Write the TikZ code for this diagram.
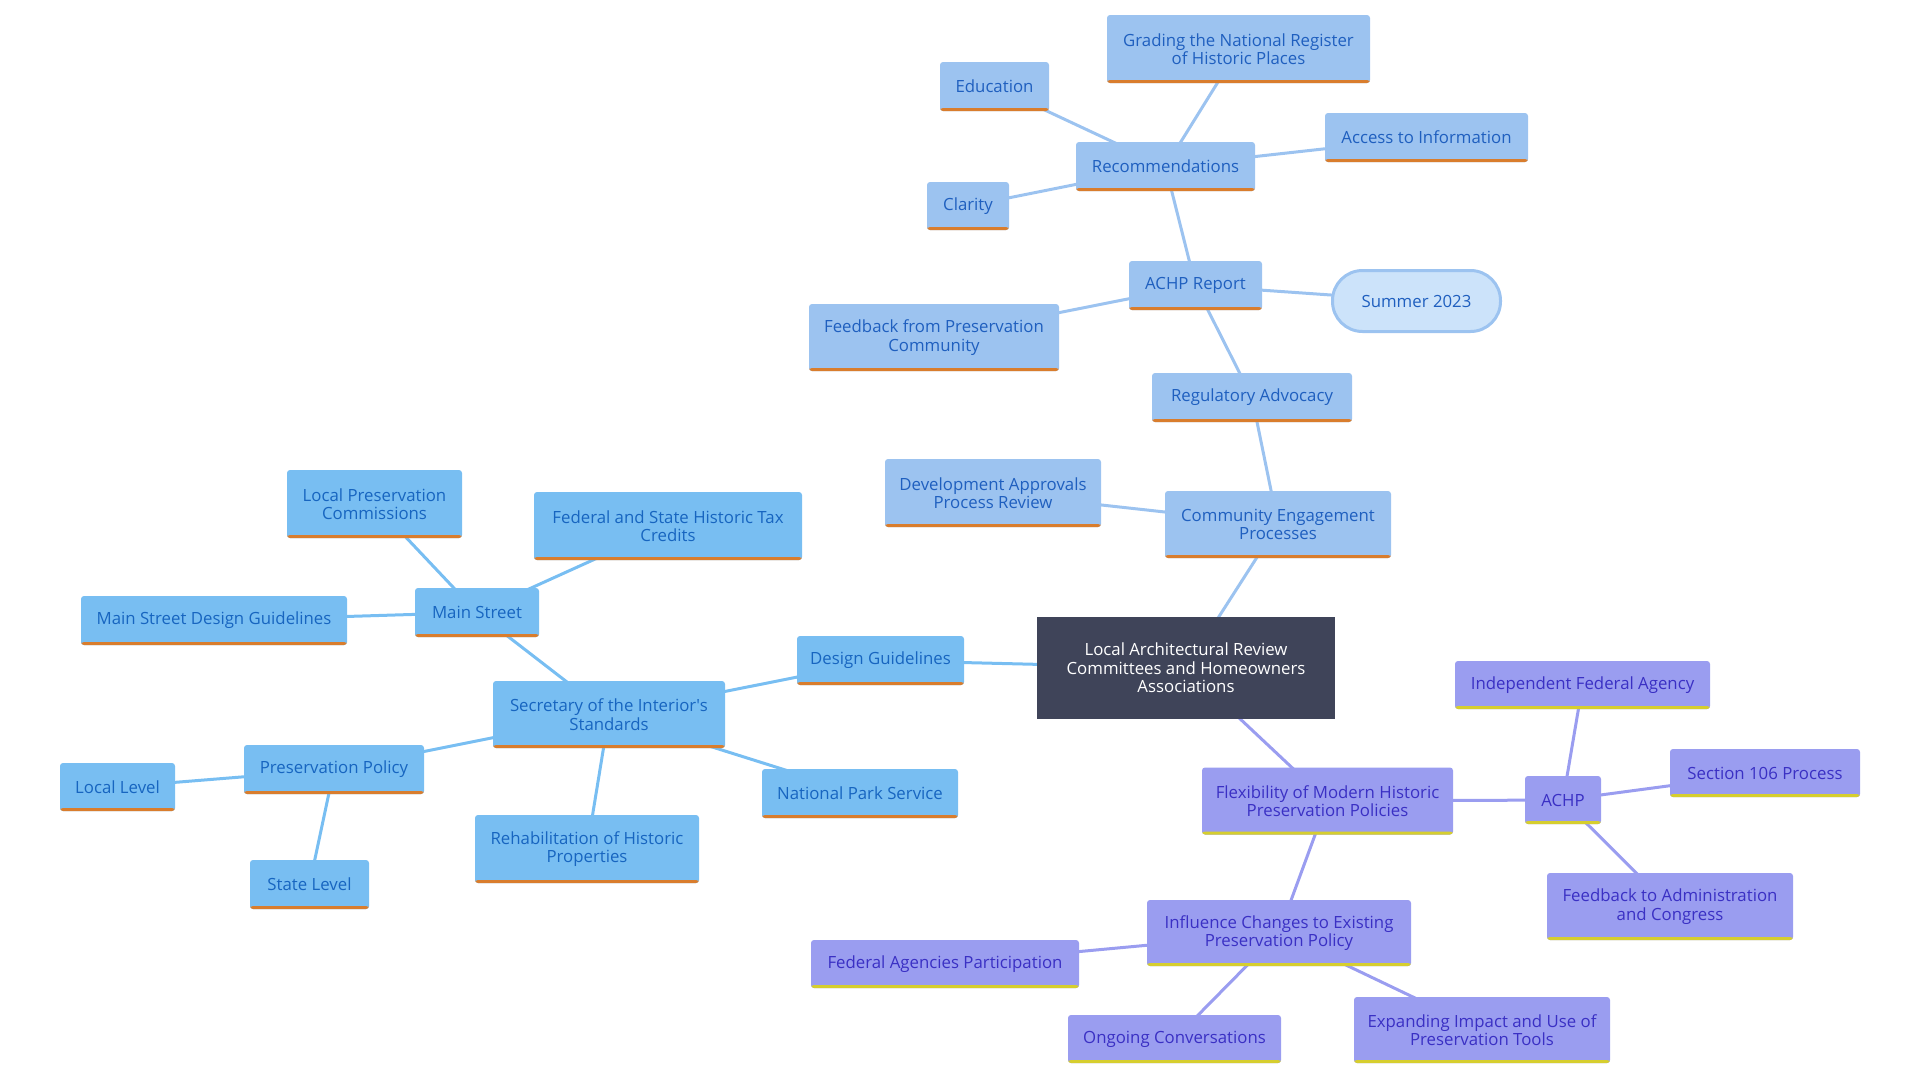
\documentclass[tikz,border=0pt]{standalone}
\usepackage{fontspec}
\setmainfont{Open Sans}
\usetikzlibrary{backgrounds}
\definecolor{topfill}{HTML}{9CC3F0}
\definecolor{toptext}{HTML}{1F5FBF}
\definecolor{leftfill}{HTML}{78BEF2}
\definecolor{lefttext}{HTML}{1765C0}
\definecolor{purpfill}{HTML}{9A9DF0}
\definecolor{purptext}{HTML}{3A30C4}
\definecolor{rootfill}{HTML}{3F4459}
\definecolor{summerfill}{HTML}{CCE3FA}
\definecolor{barorange}{HTML}{D97D2D}
\definecolor{baryellow}{HTML}{D6CE2E}
\tikzset{
  box/.style n args={3}{rectangle, rounded corners=3pt, inner sep=0pt, align=center,
    font=\fontsize{16.8}{18.5}\selectfont, fill=#1, text=#2,
    path picture={\fill[#3] ([yshift=3pt]path picture bounding box.south west) rectangle (path picture bounding box.south east);}},
  topbox/.style={box={topfill}{toptext}{barorange}},
  leftbox/.style={box={leftfill}{lefttext}{barorange}},
  purpbox/.style={box={purpfill}{purptext}{baryellow}},
  rootbox/.style={rectangle, inner sep=0pt, align=center, fill=rootfill, text=white,
    font=\fontsize{16.8}{18.5}\selectfont},
  pillbox/.style={rectangle, rounded corners=30pt, inner sep=0pt, align=center, fill=summerfill,
    draw=topfill, line width=3pt, text=toptext, font=\fontsize{16.8}{18.5}\selectfont},
  topedge/.style={draw=topfill, line width=3pt},
  leftedge/.style={draw=leftfill, line width=3pt},
  purpedge/.style={draw=purpfill, line width=3pt},
  sz/.style n args={2}{minimum width=#1pt, minimum height=#2pt}
}
\begin{document}
\begin{tikzpicture}[x=1pt,y=-1pt]
\useasboundingbox (0,0) rectangle (1920,1080);

% root
\node[rootbox, sz={298}{102}] (root) at (1186,668) {Local Architectural Review\\Committees and Homeowners\\Associations};

% top branch
\node[topbox, sz={226}{67}] (community) at (1278,524.5) {Community Engagement\\Processes};
\node[topbox, sz={216}{68}] (devapp) at (993,493) {Development Approvals\\Process Review};
\node[topbox, sz={200}{49}] (regul) at (1252,397.5) {Regulatory Advocacy};
\node[topbox, sz={133}{49}] (achpreport) at (1195.5,285.5) {ACHP Report};
\node[pillbox, sz={168}{61}] (summer) at (1416.5,301) {Summer 2023};
\node[topbox, sz={250}{67}] (feedbackpc) at (934,337.5) {Feedback from Preservation\\Community};
\node[topbox, sz={179}{49}] (recs) at (1165.5,166.5) {Recommendations};
\node[topbox, sz={82}{48}] (clarity) at (968,206) {Clarity};
\node[topbox, sz={109}{49}] (education) at (994.5,86.5) {Education};
\node[topbox, sz={263}{68}] (grading) at (1238.5,49) {Grading the National Register\\of Historic Places};
\node[topbox, sz={203}{49}] (access) at (1426.5,137.5) {Access to Information};

% left branch
\node[leftbox, sz={167}{49}] (designg) at (880.5,660.5) {Design Guidelines};
\node[leftbox, sz={232}{67}] (secretary) at (609,714.5) {Secretary of the Interior\textquotesingle s\\Standards};
\node[leftbox, sz={124}{49}] (mainstreet) at (477,612.5) {Main Street};
\node[leftbox, sz={175}{68}] (localpc) at (374.5,504) {Local Preservation\\Commissions};
\node[leftbox, sz={268}{68}] (fedstate) at (668,526) {Federal and State Historic Tax\\Credits};
\node[leftbox, sz={266}{49}] (msdg) at (214,620.5) {Main Street Design Guidelines};
\node[leftbox, sz={180}{49}] (prespolicy) at (334,769.5) {Preservation Policy};
\node[leftbox, sz={115}{48}] (locallevel) at (117.5,787) {Local Level};
\node[leftbox, sz={119}{49}] (statelevel) at (309.5,884.5) {State Level};
\node[leftbox, sz={196}{49}] (nps) at (860,793.5) {National Park Service};
\node[leftbox, sz={224}{68}] (rehab) at (587,849) {Rehabilitation of Historic\\Properties};

% purple branch
\node[purpbox, sz={251}{67}] (flex) at (1327.5,801) {Flexibility of Modern Historic\\Preservation Policies};
\node[purpbox, sz={76}{48}] (achp) at (1563,800) {ACHP};
\node[purpbox, sz={255}{48}] (indep) at (1582.5,685) {Independent Federal Agency};
\node[purpbox, sz={190}{48}] (sec106) at (1765,773) {Section 106 Process};
\node[purpbox, sz={246}{67}] (feedbackadm) at (1670,906.5) {Feedback to Administration\\and Congress};
\node[purpbox, sz={264}{66}] (influence) at (1279,933) {Influence Changes to Existing\\Preservation Policy};
\node[purpbox, sz={268}{48}] (fedagencies) at (945,964) {Federal Agencies Participation};
\node[purpbox, sz={213}{48}] (ongoing) at (1174.5,1039) {Ongoing Conversations};
\node[purpbox, sz={256}{66}] (expanding) at (1482,1030) {Expanding Impact and Use of\\Preservation Tools};

\begin{scope}[on background layer]
  \draw[topedge] (root.center) -- (community.center);
  \draw[topedge] (community.center) -- (devapp.center);
  \draw[topedge] (community.center) -- (regul.center);
  \draw[topedge] (regul.center) -- (achpreport.center);
  \draw[topedge] (achpreport.center) -- (summer.center);
  \draw[topedge] (achpreport.center) -- (feedbackpc.center);
  \draw[topedge] (achpreport.center) -- (recs.center);
  \draw[topedge] (recs.center) -- (clarity.center);
  \draw[topedge] (recs.center) -- (education.center);
  \draw[topedge] (recs.center) -- (grading.center);
  \draw[topedge] (recs.center) -- (access.center);

  \draw[leftedge] (root.center) -- (designg.center);
  \draw[leftedge] (designg.center) -- (secretary.center);
  \draw[leftedge] (secretary.center) -- (mainstreet.center);
  \draw[leftedge] (mainstreet.center) -- (localpc.center);
  \draw[leftedge] (mainstreet.center) -- (fedstate.center);
  \draw[leftedge] (mainstreet.center) -- (msdg.center);
  \draw[leftedge] (secretary.center) -- (prespolicy.center);
  \draw[leftedge] (prespolicy.center) -- (locallevel.center);
  \draw[leftedge] (prespolicy.center) -- (statelevel.center);
  \draw[leftedge] (secretary.center) -- (nps.center);
  \draw[leftedge] (secretary.center) -- (rehab.center);

  \draw[purpedge] (root.center) -- (flex.center);
  \draw[purpedge] (flex.center) -- (achp.center);
  \draw[purpedge] (achp.center) -- (indep.center);
  \draw[purpedge] (achp.center) -- (sec106.center);
  \draw[purpedge] (achp.center) -- (feedbackadm.center);
  \draw[purpedge] (flex.center) -- (influence.center);
  \draw[purpedge] (influence.center) -- (fedagencies.center);
  \draw[purpedge] (influence.center) -- (ongoing.center);
  \draw[purpedge] (influence.center) -- (expanding.center);
\end{scope}
\end{tikzpicture}
\end{document}
